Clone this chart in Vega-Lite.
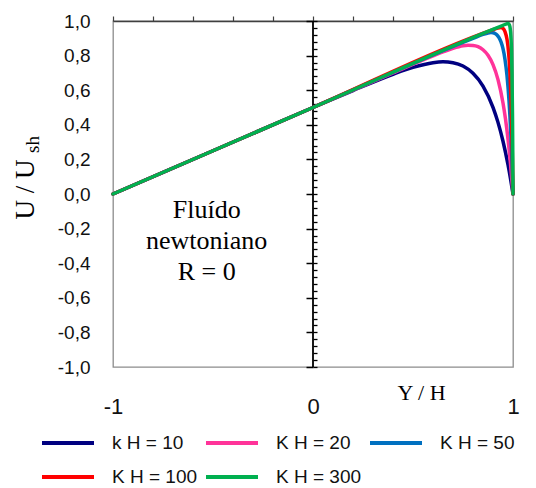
{
  "$schema": "https://vega.github.io/schema/vega-lite/v6.json",
  "autosize": {"type": "none"},
  "padding": {"left": 113, "top": 21, "right": 23, "bottom": 121},
  "width": 400,
  "height": 346,
  "config": {
    "view": {"stroke": "#8c8c8c", "strokeWidth": 1.3},
    "axis": {"grid": false},
    "font": "Liberation Sans",
    "locale": {
      "number": {"decimal": ",", "thousands": ".", "grouping": [3], "currency": ["", " €"], "minus": "-"}
    }
  },
  "resolve": {"axis": {"x": "independent", "y": "independent"}},
  "layer": [
    {
      "description": "Vertical axis line through Y/H = 0 with its major ticks",
      "data": {"values": [{"Y": 0}]},
      "mark": {"type": "rule", "color": "#000000", "strokeWidth": 1.8},
      "encoding": {
        "x": {"datum": 0, "type": "quantitative", "scale": {"domain": [-1, 1], "nice": false, "zero": false}, "axis": null},
        "y": {
          "datum": -1, "type": "quantitative",
          "scale": {"domain": [-1, 1], "nice": false, "zero": false},
          "axis": {
            "orient": "left", "offset": -200, "domain": false, "labels": false,
            "values": [-1, -0.8, -0.6, -0.4, -0.2, 0, 0.2, 0.4, 0.6, 0.8, 1],
            "ticks": true, "tickSize": 7, "tickColor": "#000000", "tickWidth": 1.5,
            "title": "sh", "titleFont": "Liberation Serif", "titleFontSize": 19, "titleFontWeight": "normal",
            "titleColor": "#000000", "titleAngle": -90, "titleAlign": "center", "titleBaseline": "alphabetic",
            "titleX": -275, "titleY": 123
          }
        },
        "y2": {"datum": 1}
      }
    },
    {
      "description": "Velocity profiles U/Ush against Y/H for each kH",
      "data": {
        "values": [
          {"Y": -1, "U": 0, "serie": "k H = 10"},
          {"Y": -0.5, "U": 0.25, "serie": "k H = 10"},
          {"Y": 0, "U": 0.5, "serie": "k H = 10"},
          {"Y": 0.2, "U": 0.598, "serie": "k H = 10"},
          {"Y": 0.4, "U": 0.692, "serie": "k H = 10"},
          {"Y": 0.5, "U": 0.732, "serie": "k H = 10"},
          {"Y": 0.6, "U": 0.759, "serie": "k H = 10"},
          {"Y": 0.65, "U": 0.764, "serie": "k H = 10"},
          {"Y": 0.7, "U": 0.759, "serie": "k H = 10"},
          {"Y": 0.75, "U": 0.74, "serie": "k H = 10"},
          {"Y": 0.8, "U": 0.698, "serie": "k H = 10"},
          {"Y": 0.85, "U": 0.624, "serie": "k H = 10"},
          {"Y": 0.9, "U": 0.501, "serie": "k H = 10"},
          {"Y": 0.925, "U": 0.414, "serie": "k H = 10"},
          {"Y": 0.95, "U": 0.305, "serie": "k H = 10"},
          {"Y": 0.975, "U": 0.169, "serie": "k H = 10"},
          {"Y": 0.9875, "U": 0.089, "serie": "k H = 10"},
          {"Y": 1, "U": 0, "serie": "k H = 10"},

          {"Y": -1, "U": 0, "serie": "K H = 20"},
          {"Y": 0, "U": 0.5, "serie": "K H = 20"},
          {"Y": 0.4, "U": 0.7, "serie": "K H = 20"},
          {"Y": 0.6, "U": 0.798, "serie": "K H = 20"},
          {"Y": 0.65, "U": 0.821, "serie": "K H = 20"},
          {"Y": 0.7, "U": 0.842, "serie": "K H = 20"},
          {"Y": 0.75, "U": 0.857, "serie": "K H = 20"},
          {"Y": 0.775, "U": 0.86, "serie": "K H = 20"},
          {"Y": 0.8, "U": 0.859, "serie": "K H = 20"},
          {"Y": 0.825, "U": 0.852, "serie": "K H = 20"},
          {"Y": 0.85, "U": 0.834, "serie": "K H = 20"},
          {"Y": 0.875, "U": 0.802, "serie": "K H = 20"},
          {"Y": 0.9, "U": 0.748, "serie": "K H = 20"},
          {"Y": 0.925, "U": 0.661, "serie": "K H = 20"},
          {"Y": 0.95, "U": 0.526, "serie": "K H = 20"},
          {"Y": 0.9625, "U": 0.433, "serie": "K H = 20"},
          {"Y": 0.975, "U": 0.317, "serie": "K H = 20"},
          {"Y": 0.9875, "U": 0.175, "serie": "K H = 20"},
          {"Y": 1, "U": 0, "serie": "K H = 20"},

          {"Y": -1, "U": 0, "serie": "K H = 50"},
          {"Y": 0, "U": 0.5, "serie": "K H = 50"},
          {"Y": 0.8, "U": 0.9, "serie": "K H = 50"},
          {"Y": 0.85, "U": 0.9225, "serie": "K H = 50"},
          {"Y": 0.875, "U": 0.931, "serie": "K H = 50"},
          {"Y": 0.89, "U": 0.933, "serie": "K H = 50"},
          {"Y": 0.9, "U": 0.932, "serie": "K H = 50"},
          {"Y": 0.91, "U": 0.928, "serie": "K H = 50"},
          {"Y": 0.92, "U": 0.919, "serie": "K H = 50"},
          {"Y": 0.93, "U": 0.904, "serie": "K H = 50"},
          {"Y": 0.94, "U": 0.879, "serie": "K H = 50"},
          {"Y": 0.95, "U": 0.84, "serie": "K H = 50"},
          {"Y": 0.96, "U": 0.778, "serie": "K H = 50"},
          {"Y": 0.97, "U": 0.684, "serie": "K H = 50"},
          {"Y": 0.98, "U": 0.541, "serie": "K H = 50"},
          {"Y": 0.985, "U": 0.444, "serie": "K H = 50"},
          {"Y": 0.99, "U": 0.325, "serie": "K H = 50"},
          {"Y": 0.995, "U": 0.179, "serie": "K H = 50"},
          {"Y": 1, "U": 0, "serie": "K H = 50"},

          {"Y": -1, "U": 0, "serie": "K H = 100"},
          {"Y": 0, "U": 0.5, "serie": "K H = 100"},
          {"Y": 0.9, "U": 0.95, "serie": "K H = 100"},
          {"Y": 0.925, "U": 0.96, "serie": "K H = 100"},
          {"Y": 0.94, "U": 0.962, "serie": "K H = 100"},
          {"Y": 0.95, "U": 0.957, "serie": "K H = 100"},
          {"Y": 0.96, "U": 0.939, "serie": "K H = 100"},
          {"Y": 0.97, "U": 0.894, "serie": "K H = 100"},
          {"Y": 0.975, "U": 0.852, "serie": "K H = 100"},
          {"Y": 0.98, "U": 0.788, "serie": "K H = 100"},
          {"Y": 0.985, "U": 0.691, "serie": "K H = 100"},
          {"Y": 0.99, "U": 0.546, "serie": "K H = 100"},
          {"Y": 0.995, "U": 0.327, "serie": "K H = 100"},
          {"Y": 0.9975, "U": 0.18, "serie": "K H = 100"},
          {"Y": 1, "U": 0, "serie": "K H = 100"},

          {"Y": -1, "U": 0, "serie": "K H = 300"},
          {"Y": 0, "U": 0.5, "serie": "K H = 300"},
          {"Y": 0.95, "U": 0.975, "serie": "K H = 300"},
          {"Y": 0.97, "U": 0.984, "serie": "K H = 300"},
          {"Y": 0.975, "U": 0.985, "serie": "K H = 300"},
          {"Y": 0.98, "U": 0.982, "serie": "K H = 300"},
          {"Y": 0.985, "U": 0.965, "serie": "K H = 300"},
          {"Y": 0.99, "U": 0.904, "serie": "K H = 300"},
          {"Y": 0.9925, "U": 0.831, "serie": "K H = 300"},
          {"Y": 0.995, "U": 0.696, "serie": "K H = 300"},
          {"Y": 0.9975, "U": 0.45, "serie": "K H = 300"},
          {"Y": 0.99875, "U": 0.258, "serie": "K H = 300"},
          {"Y": 1, "U": 0, "serie": "K H = 300"}
        ]
      },
      "mark": {"type": "line", "strokeWidth": 3.5, "strokeCap": "round", "strokeJoin": "round", "interpolate": "monotone"},
      "encoding": {
        "x": {
          "field": "Y", "type": "quantitative",
          "scale": {"domain": [-1, 1], "nice": false, "zero": false},
          "axis": {
            "orient": "top", "labels": false, "title": null,
            "values": [-1, -0.8, -0.6, -0.4, -0.2, 0, 0.2, 0.4, 0.6, 0.8, 1],
            "tickSize": 5, "tickColor": "#404040", "tickWidth": 1.2,
            "domainColor": "#404040", "domainWidth": 1.5
          }
        },
        "y": {
          "field": "U", "type": "quantitative",
          "scale": {"domain": [-1, 1], "nice": false, "zero": false},
          "axis": {
            "orient": "left", "domain": false, "ticks": false, "tickSize": 0,
            "values": [-1, -0.8, -0.6, -0.4, -0.2, 0, 0.2, 0.4, 0.6, 0.8, 1],
            "format": ".1f", "labelFont": "Liberation Sans", "labelFontSize": 19, "labelColor": "#111111",
            "labelPadding": 23, "labelOverlap": false, "labelFlush": false,
            "title": "U / U", "titleFont": "Liberation Serif", "titleFontSize": 27, "titleFontWeight": "normal",
            "titleColor": "#000000", "titleAngle": -90, "titleAlign": "center", "titleBaseline": "alphabetic",
            "titleX": -80, "titleY": 168
          }
        },
        "color": {
          "field": "serie", "type": "nominal",
          "scale": {
            "domain": ["k H = 10", "K H = 20", "K H = 50", "K H = 100", "K H = 300"],
            "range": ["#000080", "#ff3399", "#0070c0", "#ff0000", "#00b050"]
          },
          "legend": {
            "orient": "none", "legendX": -73, "legendY": 410, "columns": 3, "direction": "horizontal",
            "title": null, "padding": 0, "symbolType": "stroke", "symbolSize": 2704, "symbolStrokeWidth": 4,
            "clipHeight": 24, "rowPadding": 10, "columnPadding": 6,
            "labelFont": "Liberation Sans", "labelFontSize": 19, "labelOffset": 16, "labelColor": "#111111",
            "labelLimit": 200
          }
        }
      }
    },
    {
      "description": "Annotation inside the plot, with the bottom Y/H axis and minor ticks",
      "data": {"values": [{"Y": -0.5315, "U": -0.0925, "note": "Fluído\nnewtoniano\nR = 0"}]},
      "mark": {"type": "text", "font": "Liberation Serif", "fontSize": 26, "lineBreak": "\n", "lineHeight": 31, "align": "center", "baseline": "middle", "color": "#000000"},
      "encoding": {
        "x": {
          "field": "Y", "type": "quantitative",
          "scale": {"domain": [-1, 1], "nice": false, "zero": false},
          "axis": {
            "orient": "bottom", "domain": false, "ticks": false, "tickSize": 0,
            "values": [-1, 0, 1], "labelExpr": "datum.value < -0.5 ? '-1' : (datum.value > 0.5 ? '1' : '0')",
            "labelOverlap": false, "labelFlush": false,
            "labelFont": "Liberation Sans", "labelFontSize": 22, "labelColor": "#111111", "labelPadding": 29,
            "title": "Y / H", "titleFont": "Liberation Serif", "titleFontSize": 22, "titleFontWeight": "normal",
            "titleColor": "#000000", "titleAlign": "center", "titleBaseline": "middle",
            "titleX": 308, "titleY": 25
          }
        },
        "y": {
          "field": "U", "type": "quantitative",
          "scale": {"domain": [-1, 1], "nice": false, "zero": false},
          "axis": {
            "orient": "right", "offset": -200, "domain": false, "labels": false, "title": null,
            "values": [-1, -0.96, -0.92, -0.88, -0.84, -0.8, -0.76, -0.72, -0.68, -0.64, -0.6, -0.56, -0.52, -0.48, -0.44, -0.4, -0.36, -0.32, -0.28, -0.24, -0.2, -0.16, -0.12, -0.08, -0.04, 0, 0.04, 0.08, 0.12, 0.16, 0.2, 0.24, 0.28, 0.32, 0.36, 0.4, 0.44, 0.48, 0.52, 0.56, 0.6, 0.64, 0.68, 0.72, 0.76, 0.8, 0.84, 0.88, 0.92, 0.96, 1],
            "tickSize": 4, "tickColor": "#000000", "tickWidth": 1.3
          }
        },
        "text": {"field": "note", "type": "nominal"}
      }
    }
  ]
}
